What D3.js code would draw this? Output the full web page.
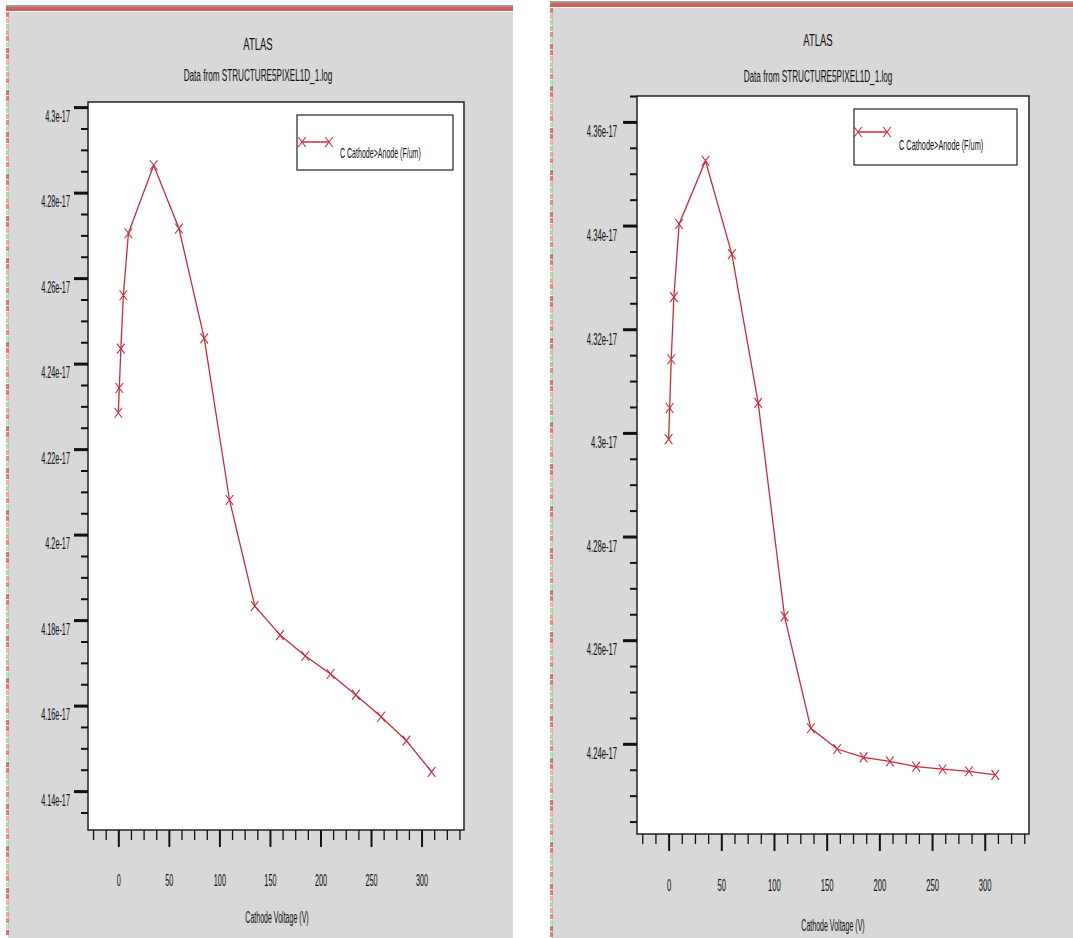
<!DOCTYPE html>
<html>
<head>
<meta charset="utf-8">
<script src="https://cdn.jsdelivr.net/npm/d3@7"></script>
<style>
  html, body { margin: 0; padding: 0; background: #ffffff; }
  svg { display: block; }
  text { font-family: 'Liberation Sans', Arial, sans-serif; fill: #111; }
</style>
</head>
<body>
<svg id="chart" width="1073" height="938"></svg>
<script>
// ---------------- DATA ----------------
const chartTitle = "ATLAS";
const chartSubtitle = "Data from STRUCTURE5PIXEL1D_1.log";
const xAxisTitle = "Cathode Voltage (V)";
const seriesName = "C Cathode>Anode (F/um)";

const cathodeVoltage = [0, 1, 2.5, 5, 10, 35, 60, 85, 110, 135, 160, 185, 210, 235, 260, 285, 310];

const capacitanceLeft = [
  4.2285e-17, 4.2343e-17, 4.2435e-17, 4.2560e-17, 4.2705e-17, 4.2864e-17, 4.2716e-17,
  4.2459e-17, 4.2081e-17, 4.1833e-17, 4.1765e-17, 4.1716e-17, 4.1674e-17, 4.1625e-17,
  4.1574e-17, 4.1518e-17, 4.1445e-17
];
const capacitanceRight = [
  4.2988e-17, 4.3048e-17, 4.3142e-17, 4.3262e-17, 4.3403e-17, 4.3525e-17, 4.3345e-17,
  4.3058e-17, 4.2646e-17, 4.2430e-17, 4.2390e-17, 4.2374e-17, 4.2366e-17, 4.2356e-17,
  4.2351e-17, 4.2347e-17, 4.2340e-17
];

const xTickValues = [0, 50, 100, 150, 200, 250, 300];
const xTickLabels = ["0", "50", "100", "150", "200", "250", "300"];

const yTickValuesLeft = [4.14e-17, 4.16e-17, 4.18e-17, 4.20e-17, 4.22e-17, 4.24e-17, 4.26e-17, 4.28e-17, 4.30e-17];
const yTickLabelsLeft = ["4.14e-17", "4.16e-17", "4.18e-17", "4.2e-17", "4.22e-17", "4.24e-17", "4.26e-17", "4.28e-17", "4.3e-17"];

const yTickValuesRight = [4.24e-17, 4.26e-17, 4.28e-17, 4.30e-17, 4.32e-17, 4.34e-17, 4.36e-17];
const yTickLabelsRight = ["4.24e-17", "4.26e-17", "4.28e-17", "4.3e-17", "4.32e-17", "4.34e-17", "4.36e-17"];

// ---------------- LAYOUT ----------------
const svg = d3.select("#chart");
const RED = "#d0283c";

const panels = [
  {
    bg: { x: 8, y: 12, w: 505, h: 926 },
    plot: { x0: 88, x1: 464, y0: 102, y1: 830 },
    xDomain: [-30, 342],
    yDomain: [4.1309e-17, 4.3012e-17],
    yMinorStep: 0.005e-17,
    values: capacitanceLeft,
    yTicks: yTickValuesLeft, yLabels: yTickLabelsLeft,
    title: { x: 258, y: 44 }, subtitle: { x: 258, y: 75 },
    legend: { x0: 297, y0: 115, x1: 453, y1: 170, lx0: 302, lx1: 329, ly: 142, tx: 340, ty: 152, sx: 0.47 },
    ylabGap: 18, ylabDy: 8.5, xlabDy: 50, xTitle: { x: 277, y: 918 },
    sx: 0.43
  },
  {
    bg: { x: 552, y: 8, w: 521, h: 930 },
    plot: { x0: 637, x1: 1029, y0: 96, y1: 834 },
    xDomain: [-30, 342],
    yDomain: [4.2226e-17, 4.365e-17],
    yMinorStep: 0.005e-17,
    values: capacitanceRight,
    yTicks: yTickValuesRight, yLabels: yTickLabelsRight,
    title: { x: 818, y: 40 }, subtitle: { x: 818, y: 76 },
    legend: { x0: 854, y0: 109, x1: 1017, y1: 165, lx0: 858, lx1: 887, ly: 132, tx: 899, ty: 145, sx: 0.49 },
    ylabGap: 20, ylabDy: 9, xlabDy: 51, xTitle: { x: 833, y: 926 },
    sx: 0.45
  }
];

function squeezedText(g, x, y, str, size, sx, anchor) {
  return g.append("text")
    .attr("transform", `translate(${x},${y}) scale(${sx},1)`)
    .attr("text-anchor", anchor)
    .attr("dominant-baseline", "central")
    .attr("font-size", size)
    .text(str);
}

function xMarker(g, cx, cy, hw, hh) {
  g.append("path")
    .attr("d", `M${cx - hw},${cy - hh}L${cx + hw},${cy + hh}M${cx - hw},${cy + hh}L${cx + hw},${cy - hh}`)
    .attr("stroke", RED).attr("stroke-width", 1.1).attr("fill", "none");
}

// scanning artifacts on panel edges
function edgeStrips(p) {
  const g = svg.append("g");
  const cols = ["#d9534f", "#e8a09a", "#8fcf8a", "#c9a15a", "#e06666", "#a0d8a0", "#b85050"];
  g.append("rect").attr("x", p.bg.x - 2).attr("y", p.bg.y - 5).attr("width", p.bg.w + 2).attr("height", 4).attr("fill", "#d0605a");
  g.append("rect").attr("x", p.bg.x - 2).attr("y", p.bg.y - 7).attr("width", p.bg.w + 2).attr("height", 2).attr("fill", "#3a3a3a").attr("opacity", 0.5);
  const n = Math.floor(p.bg.h / 6);
  for (let i = 0; i < n; i++) {
    g.append("rect").attr("x", p.bg.x - 2).attr("y", p.bg.y + i * 6).attr("width", 3).attr("height", 5)
      .attr("fill", cols[i % cols.length]).attr("opacity", 0.75);
  }
}

panels.forEach((p, pi) => {
  // background
  svg.append("rect").attr("x", p.bg.x).attr("y", p.bg.y).attr("width", p.bg.w).attr("height", p.bg.h).attr("fill", "#d8d8d8");
  edgeStrips(p);

  const g = svg.append("g");
  const x = d3.scaleLinear().domain(p.xDomain).range([p.plot.x0, p.plot.x1]);
  const y = d3.scaleLinear().domain(p.yDomain).range([p.plot.y1, p.plot.y0]);

  // plot area
  g.append("rect").attr("x", p.plot.x0).attr("y", p.plot.y0)
    .attr("width", p.plot.x1 - p.plot.x0).attr("height", p.plot.y1 - p.plot.y0)
    .attr("fill", "#ffffff").attr("stroke", "#222").attr("stroke-width", 1.5);

  // titles
  squeezedText(g, p.title.x, p.title.y, chartTitle, 17, 0.56, "middle");
  squeezedText(g, p.subtitle.x, p.subtitle.y, chartSubtitle, 17, 0.48, "middle");

  // y axis minor ticks
  const yMinor = [];
  for (let k = Math.ceil(p.yDomain[0] / p.yMinorStep - 1e-6); k * p.yMinorStep <= p.yDomain[1] + 1e-22; k++) {
    const v = k * p.yMinorStep;
    if (!p.yTicks.some(t => Math.abs(t - v) < 1e-21)) yMinor.push(v);
  }
  const yMinorAxis = g.append("g").attr("transform", `translate(${p.plot.x0},0)`)
    .call(d3.axisLeft(y).tickValues(yMinor).tickSize(7).tickFormat(""));
  yMinorAxis.select(".domain").remove();
  yMinorAxis.selectAll(".tick line").attr("stroke", "#111").attr("stroke-width", 2);

  const yMajorAxis = g.append("g").attr("transform", `translate(${p.plot.x0},0)`)
    .call(d3.axisLeft(y).tickValues(p.yTicks).tickSize(14).tickFormat((d, i) => p.yLabels[i]));
  yMajorAxis.select(".domain").remove();
  yMajorAxis.selectAll(".tick line").attr("stroke", "#111").attr("stroke-width", 3);
  yMajorAxis.selectAll(".tick text")
    .attr("x", 0).attr("dy", null)
    .attr("transform", `translate(${-p.ylabGap},${p.ylabDy}) scale(${p.sx},1)`)
    .attr("text-anchor", "end").attr("dominant-baseline", "central")
    .attr("font-size", 17).attr("font-family", null).attr("fill", "#111");

  // x axis
  const xMinor = [];
  for (let v = -25; v <= p.xDomain[1]; v += 12.5) {
    if (!xTickValues.includes(v)) xMinor.push(v);
  }
  const xMinorAxis = g.append("g").attr("transform", `translate(0,${p.plot.y1})`)
    .call(d3.axisBottom(x).tickValues(xMinor).tickSize(10).tickFormat(""));
  xMinorAxis.select(".domain").remove();
  xMinorAxis.selectAll(".tick line").attr("stroke", "#111").attr("stroke-width", 1.3);

  const xMajorAxis = g.append("g").attr("transform", `translate(0,${p.plot.y1})`)
    .call(d3.axisBottom(x).tickValues(xTickValues).tickSize(17).tickFormat((d, i) => xTickLabels[i]));
  xMajorAxis.select(".domain").remove();
  xMajorAxis.selectAll(".tick line").attr("stroke", "#111").attr("stroke-width", 2);
  xMajorAxis.selectAll(".tick text")
    .attr("y", 0).attr("dy", null)
    .attr("transform", `translate(0,${p.xlabDy}) scale(${p.sx},1)`)
    .attr("text-anchor", "middle").attr("dominant-baseline", "central")
    .attr("font-size", 17).attr("font-family", null).attr("fill", "#111");

  squeezedText(g, p.xTitle.x, p.xTitle.y, xAxisTitle, 16, 0.44, "middle");

  // data line
  const pts = cathodeVoltage.map((v, i) => [v, p.values[i]]);
  const line = d3.line().x(d => x(d[0])).y(d => y(d[1]));
  g.append("path").datum(pts).attr("d", line)
    .attr("fill", "none").attr("stroke", RED).attr("stroke-width", 1.3);
  pts.forEach(d => xMarker(g, x(d[0]), y(d[1]), 3.8, 5));

  // legend
  const L = p.legend;
  g.append("rect").attr("x", L.x0).attr("y", L.y0).attr("width", L.x1 - L.x0).attr("height", L.y1 - L.y0)
    .attr("fill", "#fff").attr("stroke", "#222").attr("stroke-width", 1.2);
  g.append("line").attr("x1", L.lx0).attr("x2", L.lx1).attr("y1", L.ly).attr("y2", L.ly)
    .attr("stroke", RED).attr("stroke-width", 1.5);
  xMarker(g, L.lx0, L.ly, 3.8, 5);
  xMarker(g, L.lx1, L.ly, 3.8, 5);
  squeezedText(g, L.tx, L.ty, seriesName, 15, L.sx, "start");
});
</script>
</body>
</html>
